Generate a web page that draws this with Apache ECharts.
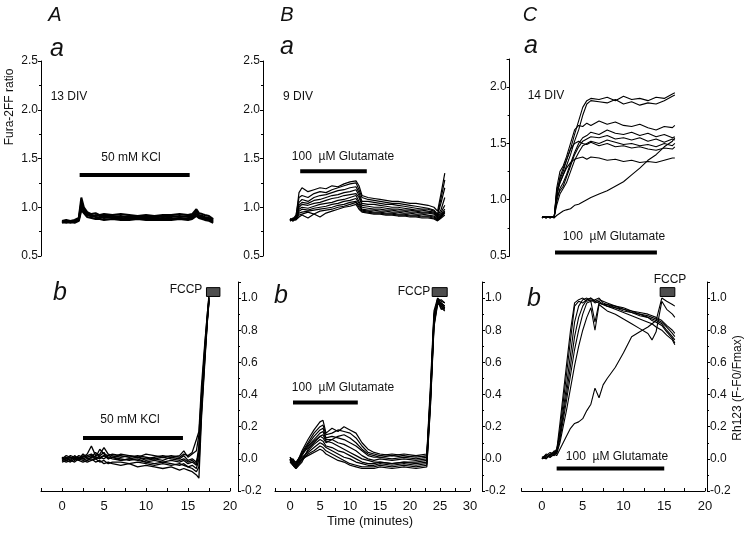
<!DOCTYPE html>
<html><head><meta charset="utf-8">
<script src="https://cdn.jsdelivr.net/npm/echarts/dist/echarts.min.js"></script>
<style>html,body{margin:0;padding:0;background:#fff}#c{width:750px;height:533px}</style>
</head><body><div id="c"></div>
<script>
// ---------- Panel A(a): Fura-2FF ratio, 13 DIV, 50 mM KCl ----------
const tAa = [0,0.5,1,1.5,2,2.3,2.6,3,3.5,4,4.5,5,6,7,8,9,10,11,12,13,14,15,15.5,16,16.3,16.7,17,17.5,18];
const yAa1 = [0.86,0.87,0.86,0.87,0.89,1.10,1.00,0.95,0.93,0.94,0.92,0.93,0.92,0.93,0.92,0.91,0.92,0.91,0.92,0.92,0.93,0.92,0.93,0.98,0.94,0.93,0.92,0.91,0.88];
const yAa2 = [0.85,0.86,0.85,0.86,0.88,1.05,0.98,0.93,0.92,0.91,0.92,0.91,0.91,0.90,0.91,0.90,0.90,0.91,0.90,0.91,0.90,0.91,0.91,0.95,0.92,0.91,0.90,0.89,0.87];
const yAa3 = [0.84,0.85,0.84,0.85,0.87,1.00,0.96,0.92,0.91,0.90,0.89,0.90,0.89,0.89,0.88,0.89,0.88,0.88,0.89,0.88,0.89,0.88,0.89,0.93,0.90,0.89,0.88,0.87,0.85];
const yAa4 = [0.85,0.84,0.85,0.84,0.86,0.97,0.94,0.90,0.89,0.88,0.88,0.87,0.88,0.87,0.87,0.88,0.87,0.87,0.87,0.87,0.88,0.87,0.88,0.91,0.89,0.88,0.87,0.86,0.84];
const yAa5 = [0.86,0.85,0.86,0.85,0.87,1.03,0.97,0.94,0.90,0.92,0.91,0.89,0.90,0.91,0.89,0.90,0.89,0.90,0.88,0.90,0.91,0.90,0.90,0.96,0.91,0.90,0.89,0.88,0.86];
const barAa = [2.1, 15.2, 1.33];

// ---------- Panel A(b): Rh123, 50 mM KCl, FCCP ----------
const tAb = [0,0.5,1,1.5,2,2.5,3,3.5,4,4.5,5,5.5,6,7,8,9,10,11,12,13,14,14.5,15,15.5,16,16.3,16.6,17,17.3,17.5];
const yAb1 = [0.00,0.01,-0.01,0.02,0.00,0.01,0.03,0.08,0.02,0.03,0.07,0.03,0.02,0.01,0.02,0.01,0.00,0.01,0.02,0.01,0.02,0.05,0.01,0.03,0.05,0.15,0.40,0.68,0.88,1.00];
const yAb2 = [-0.01,0.00,0.01,-0.01,0.01,0.00,0.01,0.02,0.01,0.00,0.02,0.01,0.00,-0.01,0.00,-0.01,-0.02,-0.01,-0.02,-0.01,-0.02,-0.01,-0.03,-0.02,-0.04,0.05,0.35,0.66,0.87,0.99];
const yAb3 = [0.01,-0.01,0.00,0.01,-0.01,0.02,0.00,0.01,0.04,0.01,0.00,0.02,0.01,0.00,-0.01,0.00,-0.02,-0.03,-0.02,-0.03,-0.04,-0.03,-0.05,-0.04,-0.06,0.00,0.30,0.63,0.86,0.98];
const yAb4 = [0.00,0.02,0.01,0.00,0.02,0.01,0.02,0.03,0.01,0.06,0.03,0.02,0.03,0.02,0.01,0.02,0.01,0.00,0.01,0.00,-0.01,0.00,-0.02,-0.01,-0.03,0.08,0.38,0.70,0.90,1.01];
const yAb5 = [-0.02,-0.01,-0.02,0.00,-0.01,-0.02,-0.01,0.00,-0.02,-0.01,-0.03,-0.02,-0.03,-0.04,-0.03,-0.05,-0.04,-0.05,-0.06,-0.05,-0.07,-0.06,-0.07,-0.08,-0.10,-0.12,0.25,0.60,0.85,0.98];
const yAb6 = [0.01,0.00,0.02,0.01,0.00,0.03,0.01,0.02,0.00,0.02,0.04,0.00,0.01,0.03,0.02,0.01,0.03,0.02,0.01,0.02,0.01,0.03,0.02,0.04,0.12,0.17,0.45,0.72,0.90,1.02];
const yAb7 = [-0.01,-0.02,-0.01,-0.02,0.00,-0.01,-0.02,-0.01,0.00,-0.02,-0.01,-0.03,-0.02,-0.02,-0.03,-0.02,-0.03,-0.04,-0.03,-0.04,-0.03,-0.04,-0.05,-0.06,-0.08,-0.05,0.28,0.62,0.86,0.99];
const yAb8 = [0.00,-0.01,0.01,0.00,0.01,0.00,-0.01,0.01,0.00,0.01,0.02,0.00,0.01,-0.01,0.00,0.01,-0.01,0.00,-0.01,0.01,0.00,0.02,-0.01,0.00,-0.02,0.03,0.33,0.65,0.87,1.00];
const barAb = [2.5, 14.4, 0.13];
const boxAb = [17.2, 18.8, 1.01, 1.065];

// ---------- Panel B(a): 9 DIV, 100 uM Glutamate ----------
const tBa = [0,0.5,1,1.5,2,3,4,5,6,7,8,9,10,11,11.5,12,13,14,15,16,17,18,19,20,21,22,23,24,24.6,25.2,25.8];
const yBa1 = [0.88,0.87,0.90,1.15,1.20,1.16,1.18,1.20,1.19,1.22,1.21,1.24,1.26,1.27,1.22,1.12,1.10,1.09,1.08,1.07,1.06,1.06,1.05,1.04,1.04,1.03,1.02,1.00,0.96,1.15,1.35];
const yBa2 = [0.87,0.88,0.92,1.10,1.12,1.10,1.14,1.16,1.15,1.18,1.20,1.22,1.24,1.25,1.18,1.10,1.08,1.07,1.06,1.05,1.04,1.04,1.03,1.02,1.01,1.00,0.99,0.97,0.93,1.10,1.28];
const yBa3 = [0.88,0.86,0.89,1.05,1.08,1.06,1.10,1.12,1.13,1.15,1.17,1.18,1.20,1.21,1.15,1.06,1.06,1.05,1.04,1.03,1.03,1.02,1.01,1.00,0.99,0.98,0.98,0.96,0.92,1.05,1.20];
const yBa4 = [0.86,0.88,0.90,1.02,1.05,1.04,1.07,1.08,1.10,1.12,1.13,1.15,1.16,1.18,1.12,1.04,1.03,1.03,1.02,1.01,1.00,1.00,0.99,0.98,0.97,0.97,0.96,0.95,0.91,0.98,1.10];
const yBa5 = [0.87,0.89,0.88,1.00,1.03,1.02,1.04,1.05,1.07,1.09,1.10,1.12,1.13,1.14,1.10,1.02,1.01,1.00,1.00,0.99,0.98,0.98,0.97,0.97,0.96,0.95,0.95,0.94,0.90,0.95,1.02];
const yBa6 = [0.88,0.87,0.89,0.98,1.00,0.99,1.01,1.03,1.04,1.05,1.07,1.08,1.10,1.12,1.06,1.00,0.99,0.98,0.98,0.97,0.97,0.96,0.96,0.95,0.95,0.94,0.94,0.93,0.89,0.93,0.98];
const yBa7 = [0.86,0.88,0.87,0.96,0.98,0.97,0.99,1.00,1.01,1.03,1.04,1.06,1.07,1.09,1.04,0.98,0.97,0.97,0.96,0.96,0.95,0.95,0.94,0.94,0.93,0.93,0.92,0.91,0.88,0.92,0.96];
const yBa8 = [0.87,0.86,0.88,0.94,0.95,0.96,0.97,0.98,0.99,1.00,1.02,1.03,1.05,1.06,1.02,0.97,0.96,0.95,0.95,0.94,0.94,0.93,0.93,0.92,0.92,0.91,0.91,0.90,0.87,0.91,0.95];
const yBa9 = [0.88,0.87,0.88,0.92,0.93,0.95,0.93,0.96,0.97,0.98,1.00,1.01,1.03,1.05,1.00,0.96,0.95,0.94,0.94,0.93,0.93,0.92,0.92,0.91,0.91,0.90,0.90,0.89,0.87,0.90,0.94];
const yBa10 = [0.87,0.88,0.87,0.90,0.92,0.89,0.93,0.90,0.94,0.96,0.98,1.00,1.01,1.03,0.98,0.95,0.94,0.93,0.93,0.92,0.92,0.91,0.91,0.90,0.90,0.89,0.89,0.88,0.86,0.89,0.92];
const barBa = [1.7, 12.8, 1.37];

// ---------- Panel B(b) ----------
const tBb = [0,0.5,1,2,3,4,5,5.5,6,7,8,9,10,11,12,13,14,15,17,19,21,22.8,23.4,24,24.6,25.2,25.8];
const yBb1 = [0.00,-0.02,-0.04,0.05,0.12,0.18,0.23,0.24,0.16,0.19,0.17,0.20,0.18,0.16,0.10,0.06,0.04,0.03,0.02,0.03,0.02,0.03,0.45,0.92,1.00,0.98,0.97];
const yBb2 = [-0.01,0.00,-0.03,0.04,0.10,0.16,0.20,0.21,0.15,0.16,0.18,0.17,0.16,0.13,0.08,0.04,0.03,0.02,0.03,0.02,0.01,0.02,0.42,0.90,0.99,0.97,0.95];
const yBb3 = [0.01,-0.01,-0.05,0.03,0.09,0.14,0.18,0.19,0.13,0.14,0.13,0.12,0.10,0.08,0.05,0.02,0.01,0.01,0.00,0.01,0.00,0.01,0.40,0.88,0.98,0.96,0.94];
const yBb4 = [0.00,-0.03,-0.04,0.02,0.08,0.12,0.16,0.17,0.12,0.12,0.10,0.09,0.07,0.05,0.02,0.00,-0.01,0.00,-0.01,0.00,-0.01,0.00,0.38,0.86,0.97,0.95,0.93];
const yBb5 = [-0.02,-0.04,-0.06,0.00,0.05,0.09,0.12,0.11,0.08,0.07,0.05,0.04,0.02,0.00,-0.02,-0.03,-0.03,-0.02,-0.03,-0.02,-0.03,-0.02,0.36,0.85,0.99,0.94,0.92];
const yBb6 = [0.01,-0.02,-0.03,0.01,0.04,0.07,0.10,0.09,0.07,0.05,0.03,0.01,0.00,-0.02,-0.03,-0.04,-0.04,-0.03,-0.04,-0.03,-0.04,-0.03,0.35,0.84,0.98,0.93,0.94];
const yBb7 = [-0.01,-0.03,-0.05,-0.01,0.03,0.05,0.08,0.07,0.05,0.03,0.01,-0.01,-0.03,-0.04,-0.05,-0.05,-0.05,-0.04,-0.05,-0.04,-0.05,-0.04,0.33,0.83,0.97,0.95,0.93];
const yBb8 = [0.00,-0.02,-0.04,0.00,0.02,0.04,0.06,0.05,0.03,0.01,-0.01,-0.02,-0.04,-0.05,-0.06,-0.06,-0.06,-0.05,-0.06,-0.05,-0.06,-0.05,0.32,0.82,0.96,0.97,0.95];
const yBb9 = [-0.01,-0.04,-0.06,-0.02,0.06,0.10,0.14,0.15,0.11,0.10,0.08,0.06,0.04,0.02,0.00,-0.01,-0.02,-0.02,-0.03,-0.02,-0.02,-0.01,0.37,0.87,1.00,0.96,0.94];
const yBb10 = [0.00,-0.01,-0.02,0.03,0.07,0.11,0.14,0.13,0.10,0.12,0.14,0.15,0.13,0.10,0.06,0.03,0.02,0.01,0.02,0.01,0.02,0.01,0.39,0.89,0.98,0.99,0.97];
const barBb = [0.5, 11.3, 0.35];
const boxBb = [23.7, 26.2, 1.01, 1.065];

// ---------- Panel C(a): 14 DIV ----------
const tCa = [0,0.5,1,1.5,1.8,2.2,2.6,3,3.5,4,4.5,5,5.5,6,7,8,9,10,11,12,13,14,15,16,16.3];
const yCa1 = [0.85,0.84,0.85,0.85,1.00,1.20,1.28,1.35,1.45,1.58,1.70,1.82,1.88,1.90,1.89,1.91,1.88,1.92,1.89,1.90,1.88,1.91,1.90,1.94,1.95];
const yCa2 = [0.84,0.85,0.84,0.85,1.05,1.15,1.22,1.30,1.40,1.52,1.62,1.75,1.85,1.88,1.87,1.86,1.89,1.85,1.87,1.84,1.86,1.85,1.88,1.92,1.93];
const yCa3 = [0.85,0.84,0.85,0.84,1.10,1.25,1.30,1.38,1.50,1.62,1.66,1.65,1.68,1.66,1.70,1.67,1.69,1.66,1.65,1.67,1.64,1.62,1.65,1.64,1.66];
const yCa4 = [0.84,0.85,0.84,0.85,0.98,1.10,1.15,1.22,1.32,1.42,1.50,1.55,1.57,1.60,1.58,1.62,1.59,1.58,1.60,1.57,1.59,1.56,1.58,1.55,1.56];
const yCa5 = [0.85,0.84,0.85,0.84,1.02,1.08,1.12,1.20,1.30,1.40,1.47,1.52,1.54,1.56,1.55,1.57,1.54,1.55,1.53,1.55,1.52,1.54,1.51,1.54,1.53];
const yCa6 = [0.84,0.85,0.84,0.85,0.95,1.05,1.10,1.15,1.25,1.35,1.42,1.48,1.50,1.52,1.50,1.53,1.51,1.49,1.50,1.48,1.49,1.47,1.50,1.48,1.50];
const yCa7 = [0.85,0.84,0.85,0.84,1.08,1.18,1.25,1.35,1.45,1.50,1.52,1.50,1.49,1.51,1.48,1.50,1.47,1.48,1.46,1.47,1.45,1.44,1.46,1.45,1.47];
const yCa8 = [0.84,0.85,0.84,0.85,1.05,1.15,1.22,1.28,1.33,1.36,1.37,1.38,1.36,1.38,1.37,1.35,1.36,1.34,1.35,1.33,1.34,1.33,1.35,1.37,1.37];
const yCa9 = [0.85,0.84,0.85,0.84,0.86,0.88,0.90,0.91,0.92,0.95,0.96,0.98,1.00,1.02,1.05,1.08,1.12,1.16,1.22,1.28,1.35,1.40,1.47,1.52,1.55];
const barCa = [1.6, 14.1, 0.53];

// ---------- Panel C(b) ----------
const tCb = [0,0.5,1,1.5,1.8,2.2,2.6,3,3.5,4,4.5,5,5.5,6,6.5,7,7.5,8,9,10,11,12,13,13.5,14,14.7,15.3,16,16.3];
const yCb1 = [0.00,0.02,0.01,0.03,0.05,0.22,0.40,0.58,0.80,0.97,0.99,1.00,0.98,0.99,0.97,0.98,0.96,0.95,0.94,0.93,0.91,0.90,0.88,0.87,0.86,0.84,0.80,0.76,0.74];
const yCb2 = [0.01,0.00,0.03,0.02,0.04,0.18,0.35,0.52,0.74,0.95,0.98,0.97,0.99,1.00,0.98,0.97,0.96,0.96,0.94,0.92,0.91,0.89,0.88,0.86,0.85,0.83,0.79,0.75,0.72];
const yCb3 = [0.00,0.03,0.02,0.04,0.06,0.15,0.30,0.45,0.65,0.85,0.95,0.99,1.00,0.98,0.99,1.00,0.97,0.96,0.95,0.93,0.92,0.90,0.89,0.88,0.87,0.85,0.82,0.78,0.76];
const yCb4 = [0.01,0.02,0.04,0.03,0.05,0.14,0.27,0.40,0.58,0.76,0.88,0.95,0.99,1.00,0.98,0.99,0.98,0.97,0.95,0.94,0.92,0.91,0.90,0.89,0.88,0.86,0.83,0.80,0.78];
const yCb5 = [0.00,0.01,0.02,0.05,0.04,0.12,0.24,0.36,0.52,0.68,0.80,0.90,0.97,0.98,0.85,0.97,0.96,0.95,0.93,0.91,0.89,0.87,0.85,0.84,0.82,0.80,0.77,0.74,0.71];
const yCb6 = [0.01,0.00,0.03,0.04,0.03,0.10,0.20,0.30,0.44,0.58,0.70,0.80,0.88,0.94,0.80,0.96,0.94,0.92,0.90,0.87,0.84,0.81,0.78,0.74,0.79,0.98,0.93,0.90,0.88];
const yCb7 = [0.00,0.02,0.01,0.03,0.02,0.06,0.10,0.14,0.19,0.22,0.23,0.25,0.30,0.34,0.44,0.38,0.46,0.50,0.57,0.66,0.76,0.79,0.82,0.84,0.86,1.00,0.98,0.96,0.95];
const barCb = [1.8, 15.0, -0.06];
const boxCb = [14.5, 16.3, 1.01, 1.065];

// ---------- rendering ----------
const FONT = '"Liberation Sans", Arial, sans-serif';
const chart = echarts.init(document.getElementById('c'), null, {renderer: 'canvas'});

const grids = [
  {left: 41, top: 61, width: 189, height: 195},
  {left: 41, top: 282, width: 189, height: 209},
  {left: 275, top: 61, width: 195, height: 195},
  {left: 275, top: 282, width: 195, height: 209},
  {left: 521.6, top: 59, width: 183.4, height: 197},
  {left: 521.6, top: 282, width: 183.4, height: 209}
];
const xRanges = [[-2.5,20],[-2.5,20],[-2.5,30],[-2.5,30],[-2.5,20],[-2.5,20]];
const blk = {color: '#000', width: 1};

const xAxes = xRanges.map((r, i) => {
  const bottom = i % 2 === 1;
  return {
    gridIndex: i, type: 'value', min: r[0], max: r[1], interval: 2.5, show: bottom,
    axisLine: {show: true, onZero: false, lineStyle: blk},
    axisTick: {show: true, inside: true, length: 3, lineStyle: blk},
    splitLine: {show: false},
    axisLabel: {fontFamily: FONT, fontSize: 13, color: '#111', margin: 9,
      formatter: v => (v >= 0 && Math.abs(v % 5) < 1e-9) ? String(v) : ''}
  };
});
function topY(i, max, offset) {
  return {gridIndex: i, type: 'value', min: 0.5, max: max, interval: 0.5, position: 'left', offset: offset,
    axisLine: {show: true, onZero: false, lineStyle: blk},
    axisTick: {show: true, length: 3, lineStyle: blk},
    minorTick: {show: true, splitNumber: 2, length: 2, lineStyle: blk},
    splitLine: {show: false}, minorSplitLine: {show: false},
    axisLabel: {fontFamily: FONT, fontSize: 12, color: '#111', margin: 3,
      formatter: v => Math.abs(v * 2 - Math.round(v * 2)) < 1e-6 ? v.toFixed(1) : ''}};
}
function botY(i, offset) {
  return {gridIndex: i, type: 'value', min: -0.2, max: 1.1, interval: 0.2, position: 'right', offset: offset,
    axisLine: {show: true, onZero: false, lineStyle: blk},
    axisTick: {show: true, length: 3, lineStyle: blk},
    minorTick: {show: true, splitNumber: 2, length: 2, lineStyle: blk},
    splitLine: {show: false}, minorSplitLine: {show: false},
    axisLabel: {fontFamily: FONT, fontSize: 12, color: '#111', margin: 3,
      formatter: v => (v < 1.05) ? v.toFixed(1) : ''}};
}
const yAxes = [topY(0, 2.5, 0), botY(1, 8), topY(2, 2.5, 12), botY(3, 12), topY(4, 2.25, 12), botY(5, 2)];

const series = [];
function addTraces(t, ys, ai, w) {
  ys.forEach(y => series.push({type: 'line', xAxisIndex: ai, yAxisIndex: ai, showSymbol: false, symbol: 'none',
    data: t.map((x, k) => [x, y[k]]), lineStyle: {color: '#000', width: w}, silent: true, animation: false, z: 2}));
}
function addBar(b, ai) {
  series.push({type: 'line', xAxisIndex: ai, yAxisIndex: ai, symbol: 'none', showSymbol: false,
    data: [[b[0], b[2]], [b[1], b[2]]], lineStyle: {color: '#000', width: 4, cap: 'butt'}, silent: true, animation: false, z: 3});
}
function addBox(b, ai) {
  series.push({type: 'custom', xAxisIndex: ai, yAxisIndex: ai, data: [b], encode: {x: [0, 1], y: [2, 3]}, clip: false,
    renderItem: (p, api) => {
      const a = api.coord([api.value(0), api.value(3)]);
      const c = api.coord([api.value(1), api.value(2)]);
      return {type: 'rect', shape: {x: a[0], y: a[1], width: c[0] - a[0], height: c[1] - a[1]},
        style: {fill: '#4e4e4e', stroke: '#000', lineWidth: 1}};
    }, silent: true, animation: false, z: 3});
}
addTraces(tAa, [yAa1, yAa2, yAa3, yAa4, yAa5], 0, 2);
addBar(barAa, 0);
addTraces(tAb, [yAb1, yAb2, yAb3, yAb4, yAb5, yAb6, yAb7, yAb8], 1, 1.3);
addBar(barAb, 1); addBox(boxAb, 1);
addTraces(tBa, [yBa1, yBa2, yBa3, yBa4, yBa5, yBa6, yBa7, yBa8, yBa9, yBa10], 2, 1.2);
addBar(barBa, 2);
addTraces(tBb, [yBb1, yBb2, yBb3, yBb4, yBb5, yBb6, yBb7, yBb8, yBb9, yBb10], 3, 1.2);
addBar(barBb, 3); addBox(boxBb, 3);
addTraces(tCa, [yCa1, yCa2, yCa3, yCa4, yCa5, yCa6, yCa7, yCa8, yCa9], 4, 1.1);
addBar(barCa, 4);
addTraces(tCb, [yCb1, yCb2, yCb3, yCb4, yCb5, yCb6, yCb7], 5, 1.1);
addBar(barCb, 5); addBox(boxCb, 5);

function txt(s, x, y, size, opts) {
  return {type: 'text', x: x, y: y, silent: true,
    style: Object.assign({text: s, fontFamily: FONT, fontSize: size, fill: '#111', align: 'center', verticalAlign: 'middle'}, opts || {})};
}
const it = {fontStyle: 'italic'};
const graphic = [
  txt('A', 55, 15, 20, it), txt('B', 287, 15, 20, it), txt('C', 530, 15, 20, it),
  txt('a', 57, 49, 25, it), txt('a', 287, 47, 25, it), txt('a', 531, 46, 25, it),
  txt('b', 60, 293, 25, it), txt('b', 281, 296, 25, it), txt('b', 534, 299, 25, it),
  txt('13 DIV', 69, 97, 12), txt('9 DIV', 298, 97, 12), txt('14 DIV', 546, 96, 12),
  txt('50 mM KCl', 131, 158, 12), txt('50 mM KCl', 130, 420, 12),
  txt('100  \u00b5M Glutamate', 343, 157, 12), txt('100  \u00b5M Glutamate', 343, 388, 12),
  txt('100  \u00b5M Glutamate', 614, 237, 12), txt('100  \u00b5M Glutamate', 617, 457, 12),
  txt('FCCP', 186, 290, 12), txt('FCCP', 414, 292, 12), txt('FCCP', 670, 280, 12),
  txt('Time (minutes)', 370, 521, 13),
  {type: 'text', x: 10, y: 107, rotation: Math.PI / 2, silent: true,
    style: {text: 'Fura-2FF ratio', fontFamily: FONT, fontSize: 12, fill: '#111', align: 'center', verticalAlign: 'middle'}},
  {type: 'text', x: 738, y: 388, rotation: Math.PI / 2, silent: true,
    style: {text: 'Rh123 (F-F0/Fmax)', fontFamily: FONT, fontSize: 12, fill: '#111', align: 'center', verticalAlign: 'middle'}}
];

chart.setOption({
  animation: false,
  backgroundColor: '#fff',
  grid: grids,
  xAxis: xAxes,
  yAxis: yAxes,
  series: series,
  graphic: graphic
});
</script></body></html>
